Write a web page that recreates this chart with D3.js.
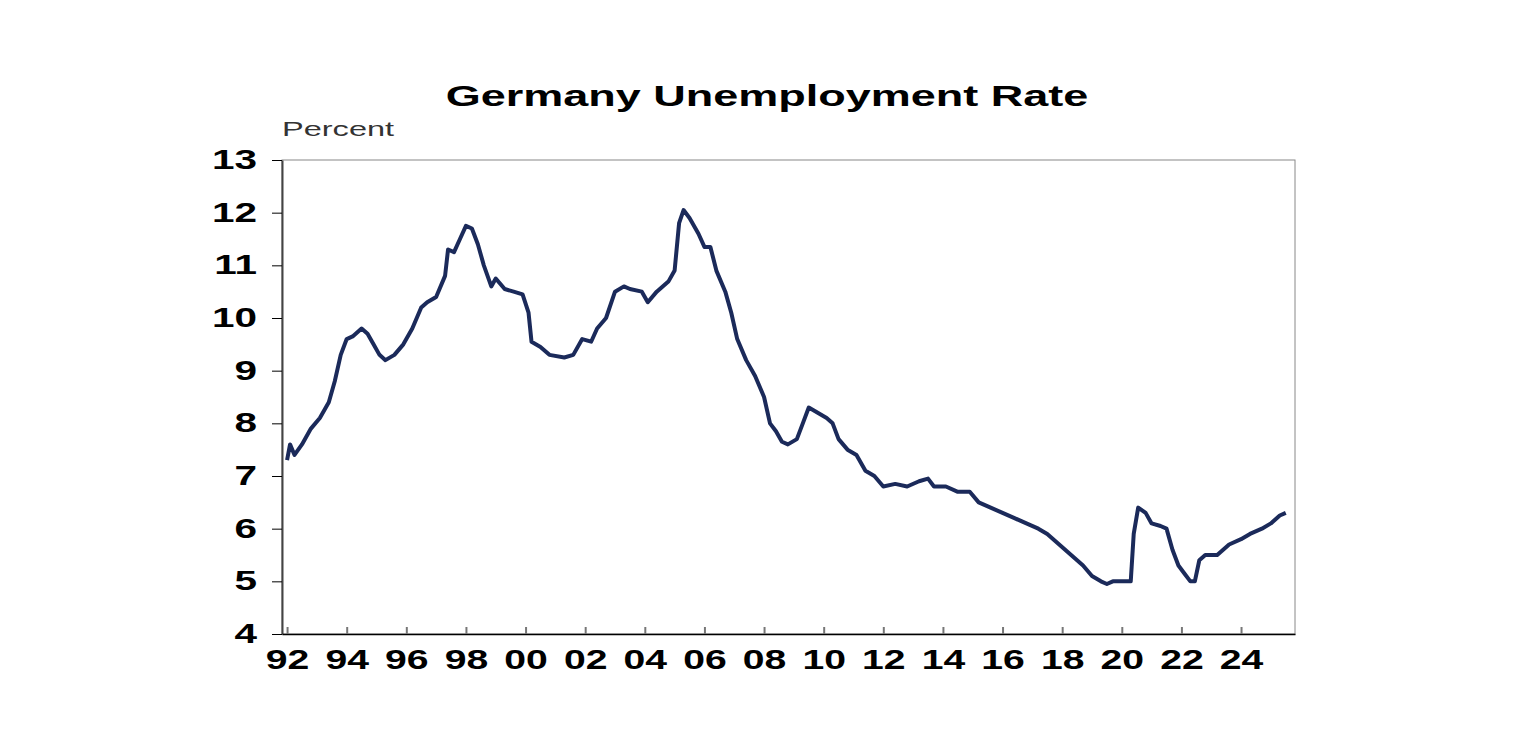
<!DOCTYPE html><html><head><meta charset="utf-8">
<script src="https://cdn.jsdelivr.net/npm/d3@7"></script>
<style>body{margin:0;background:#fff}</style></head><body><svg id="c" width="1536" height="754"></svg>
<script>
const years=[1992.0,1992.1,1992.25,1992.5,1992.8,1993.1,1993.4,1993.6,1993.8,1994.0,1994.2,1994.5,1994.7,1994.9,1995.1,1995.3,1995.6,1995.9,1996.2,1996.5,1996.7,1997.0,1997.3,1997.4,1997.6,1997.8,1998.0,1998.2,1998.4,1998.6,1998.85,1999.0,1999.3,1999.6,1999.9,2000.1,2000.2,2000.5,2000.8,2001.3,2001.6,2001.9,2002.2,2002.4,2002.7,2003.0,2003.3,2003.5,2003.9,2004.1,2004.4,2004.8,2005.0,2005.15,2005.3,2005.5,2005.8,2006.0,2006.2,2006.4,2006.7,2006.9,2007.1,2007.4,2007.7,2008.0,2008.2,2008.4,2008.6,2008.8,2009.1,2009.3,2009.5,2009.8,2010.1,2010.3,2010.5,2010.8,2011.1,2011.4,2011.7,2012.0,2012.4,2012.8,2013.2,2013.5,2013.7,2014.1,2014.5,2014.9,2015.2,2015.6,2016.0,2016.4,2016.8,2017.2,2017.5,2017.9,2018.3,2018.7,2019.0,2019.3,2019.5,2019.7,2020.0,2020.3,2020.4,2020.55,2020.8,2021.0,2021.3,2021.5,2021.7,2021.9,2022.1,2022.3,2022.45,2022.6,2022.8,2023.2,2023.6,2024.0,2024.3,2024.7,2025.0,2025.3,2025.5];
const rate=[7.3,7.6,7.4,7.6,7.9,8.1,8.4,8.8,9.3,9.6,9.65,9.8,9.7,9.5,9.3,9.2,9.3,9.5,9.8,10.2,10.3,10.4,10.8,11.3,11.25,11.5,11.75,11.7,11.4,11.0,10.6,10.75,10.55,10.5,10.45,10.1,9.55,9.45,9.3,9.25,9.3,9.6,9.55,9.8,10.0,10.5,10.6,10.55,10.5,10.3,10.5,10.7,10.9,11.8,12.05,11.9,11.6,11.35,11.35,10.9,10.5,10.1,9.6,9.2,8.9,8.5,8.0,7.85,7.65,7.6,7.7,8.0,8.3,8.2,8.1,8.0,7.7,7.5,7.4,7.1,7.0,6.8,6.85,6.8,6.9,6.95,6.8,6.8,6.7,6.7,6.5,6.4,6.3,6.2,6.1,6.0,5.9,5.7,5.5,5.3,5.1,5.0,4.95,5.0,5.0,5.0,5.9,6.4,6.3,6.1,6.05,6.0,5.6,5.3,5.15,5.0,5.0,5.4,5.5,5.5,5.7,5.8,5.9,6.0,6.1,6.25,6.3];
const xTicks=[1992,1994,1996,1998,2000,2002,2004,2006,2008,2010,2012,2014,2016,2018,2020,2022,2024];
const yTicks=[4,5,6,7,8,9,10,11,12,13];
const svg=d3.select("#c");
const L=282,R=1295,T=160,B=634;
const x=d3.scaleLinear().domain([1991.83,2025.81]).range([L,R]);
const y=d3.scaleLinear().domain([4,13]).range([B,T]);
svg.append("rect").attr("x",L).attr("y",T).attr("width",R-L).attr("height",B-T).attr("fill","none").attr("stroke","#888").attr("stroke-width",1);
const ga=svg.append("g").attr("transform",`translate(${L},0)`).call(d3.axisLeft(y).tickValues(yTicks).tickSize(10).tickSizeOuter(0));
ga.select(".domain").attr("stroke","#444").attr("stroke-width",2);
ga.selectAll("text").attr("font-family","Arial, Liberation Sans").attr("font-weight","bold").attr("font-size",27).attr("fill","#000")
  .attr("x",-25/1.5).attr("transform","scale(1.5,1)");
const gx=svg.append("g").attr("transform",`translate(0,${B})`).call(d3.axisBottom(x).tickValues(xTicks).tickSize(-7).tickSizeOuter(0).tickPadding(16).tickFormat(d=>String(d%100).padStart(2,"0")));
gx.select(".domain").attr("stroke","#000").attr("stroke-width",1.5);
gx.selectAll("line").attr("stroke","#777").attr("stroke-width",2);
gx.selectAll("text").attr("font-family","Arial, Liberation Sans").attr("font-weight","bold").attr("font-size",27).attr("fill","#000").attr("transform","scale(1.45,1)");
svg.append("path").datum(years.map((d,i)=>[d,rate[i]])).attr("fill","none").attr("stroke","#1b2a5a").attr("stroke-width",4).attr("stroke-linejoin","round")
 .attr("d",d3.line().x(d=>x(d[0])).y(d=>y(d[1])));
svg.append("text").attr("transform","translate(767,106) scale(1.5,1)").attr("text-anchor","middle").attr("font-family","Arial, Liberation Sans").attr("font-weight","bold").attr("font-size",30).text("Germany Unemployment Rate");
svg.append("text").attr("transform","translate(282,136) scale(1.55,1)").attr("font-family","Arial, Liberation Sans").attr("font-size",21).attr("fill","#333").text("Percent");
</script></body></html>
